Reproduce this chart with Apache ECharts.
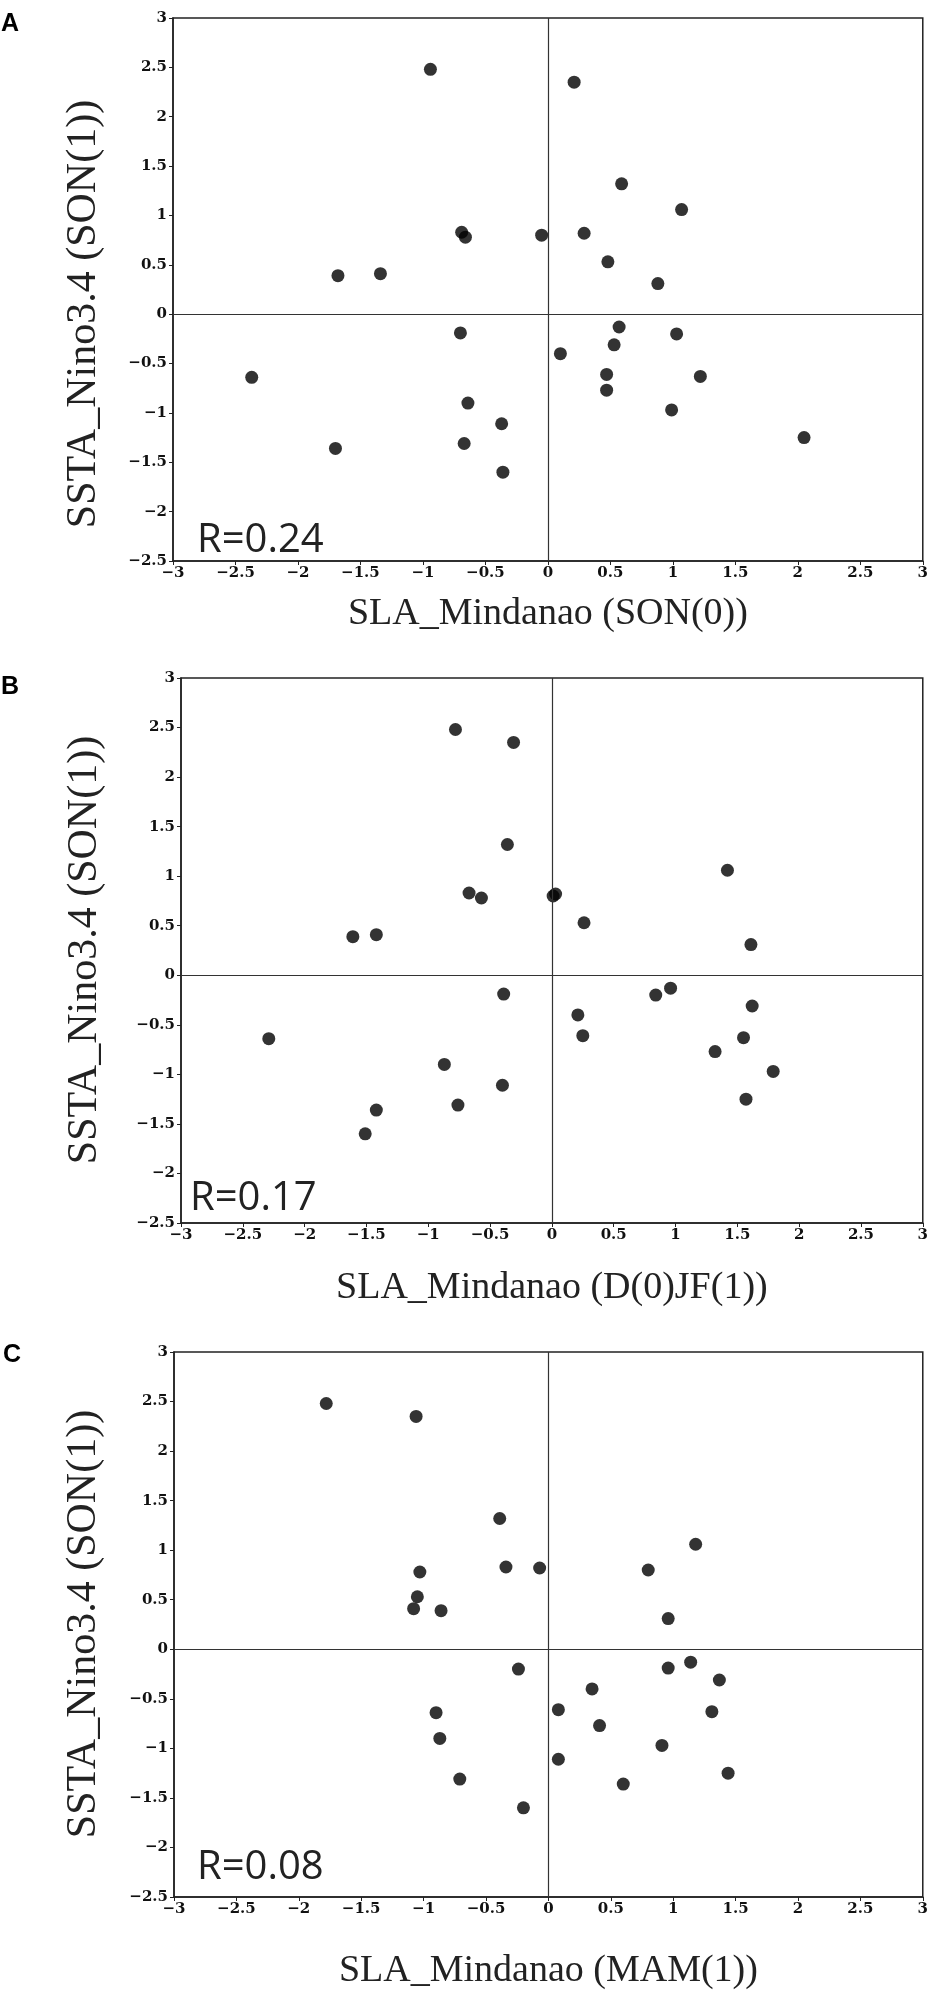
<!DOCTYPE html>
<html><head><meta charset="utf-8">
<script src="https://cdn.jsdelivr.net/npm/echarts@6/dist/echarts.min.js"></script>
<style>html,body{margin:0;padding:0;background:#fff}#c{width:931px;height:1992px}</style>
</head><body><div id="c"></div>
<script>
// SSTA Nino3.4 SON(1) (shared y for all panels)
const sstaNino34 = [2.48, 2.35, 1.32, 1.06, 0.83, 0.78, 0.80, 0.82, 0.53, 0.31, 0.39, 0.41,
  -0.19, -0.13, -0.20, -0.31, -0.40, -0.61, -0.63, -0.64, -0.77, -0.90, -0.97, -1.11,
  -1.25, -1.31, -1.36, -1.60];
// SLA Mindanao SON(0)
const slaSON0 = [-0.94, 0.21, 0.59, 1.07, -0.69, -0.66, -0.05, 0.29, 0.48, 0.88, -1.68, -1.34,
  -0.70, 0.57, 1.03, 0.53, 0.10, 0.47, 1.22, -2.37, 0.47, -0.64, 0.99, -0.37,
  2.05, -0.67, -1.70, -0.36];
// SLA Mindanao D(0)JF(1)
const slaDJF = [-0.78, -0.31, -0.36, 1.42, -0.67, -0.57, 0.01, 0.03, 0.26, 1.61, -1.61, -1.42,
  -0.39, 0.96, 0.84, 1.62, 0.21, 0.25, 1.55, -2.29, 1.32, -0.87, 1.79, -0.40,
  1.57, -0.76, -1.42, -1.51];
// SLA Mindanao MAM(1)
const slaMAM = [-1.78, -1.06, -0.39, 1.18, -0.34, -1.03, 0.80, -0.07, -1.05, 0.96, -0.86, -1.08,
  0.96, 1.14, -0.24, 1.37, 0.35, 0.08, 1.31, -0.90, 0.41, -0.87, 0.91, 0.08,
  1.44, -0.71, 0.60, -0.20];

const panelLetters = ['A', 'B', 'C'];
const xTitles = ['SLA_Mindanao (SON(0))', 'SLA_Mindanao (D(0)JF(1))', 'SLA_Mindanao (MAM(1))'];
const yTitle = 'SSTA_Nino3.4 (SON(1))';
const rLabels = ['R=0.24', 'R=0.17', 'R=0.08'];
const xSeries = [slaSON0, slaDJF, slaMAM];

const grids = [
  {left: 173, top: 18, width: 752, height: 543},
  {left: 181, top: 678, width: 744, height: 545},
  {left: 174, top: 1352, width: 751, height: 545}
];
const xNameGaps = [34, 46, 55];
const yTitlePos = [[84, 314], [85, 950], [84, 1624]];
const letterPos = [[1, 24], [1, 687], [3, 1355]];
const rPos = [[197, 541], [190, 1199], [197, 1868]];

const fmt = v => (v < 0 ? '\u2212' : '') + Math.abs(v);
const tickFont = {fontFamily: 'DejaVu Serif', fontSize: 15, fontWeight: 'bold', color: '#111'};

const chart = echarts.init(document.getElementById('c'), null, {renderer: 'canvas'});
const option = {
  animation: false,
  backgroundColor: '#fff',
  grid: grids.map(g => Object.assign({show: true, borderColor: '#222', borderWidth: 1.5, backgroundColor: 'transparent'}, g)),
  xAxis: grids.map((g, i) => ({
    type: 'value', gridIndex: i, min: -3, max: 3, interval: 0.5,
    name: xTitles[i], nameLocation: 'middle', nameGap: xNameGaps[i],
    nameTextStyle: {fontFamily: 'Liberation Serif', fontSize: 38, color: '#222'},
    axisLine: {show: true, onZero: false, lineStyle: {color: '#222', width: 1.5}},
    axisTick: {show: true, length: 4, lineStyle: {color: '#222'}},
    splitLine: {show: false},
    axisLabel: Object.assign({formatter: fmt, margin: 5}, tickFont)
  })),
  yAxis: grids.map((g, i) => ({
    type: 'value', gridIndex: i, min: -2.5, max: 3, interval: 0.5,
    axisLine: {show: true, onZero: false, lineStyle: {color: '#222', width: 1.5}},
    axisTick: {show: true, length: 4, lineStyle: {color: '#222'}},
    splitLine: {show: false},
    axisLabel: Object.assign({formatter: fmt, margin: 6}, tickFont)
  })),
  series: xSeries.map((xs, i) => ({
    type: 'scatter', xAxisIndex: i, yAxisIndex: i,
    symbol: 'circle', symbolSize: 13,
    itemStyle: {color: '#000'},
    data: xs.map((x, k) => [x, sstaNino34[k]]),
    markLine: {
      silent: true, symbol: ['none', 'none'], label: {show: false},
      lineStyle: {color: '#333', width: 1.2, type: 'solid'},
      data: [{xAxis: 0}, {yAxis: 0}]
    },
    z: 3
  })),
  graphic: [
    ...panelLetters.map((t, i) => ({
      type: 'text', x: letterPos[i][0], y: letterPos[i][1],
      style: {text: t, font: 'bold 25px "Liberation Sans"', fill: '#000', align: 'left', verticalAlign: 'middle'}
    })),
    ...rLabels.map((t, i) => ({
      type: 'text', x: rPos[i][0], y: rPos[i][1], z: 10,
      style: {text: t, font: '40px "Open Sans"', fill: '#222', align: 'left', verticalAlign: 'middle'}
    })),
    ...yTitlePos.map((p, i) => ({
      type: 'text', x: p[0], y: p[1], rotation: Math.PI / 2,
      style: {text: yTitle, font: '42px "Liberation Serif"', fill: '#222', align: 'center', verticalAlign: 'middle'}
    }))
  ]
};
chart.setOption(option);
</script>
</body></html>
